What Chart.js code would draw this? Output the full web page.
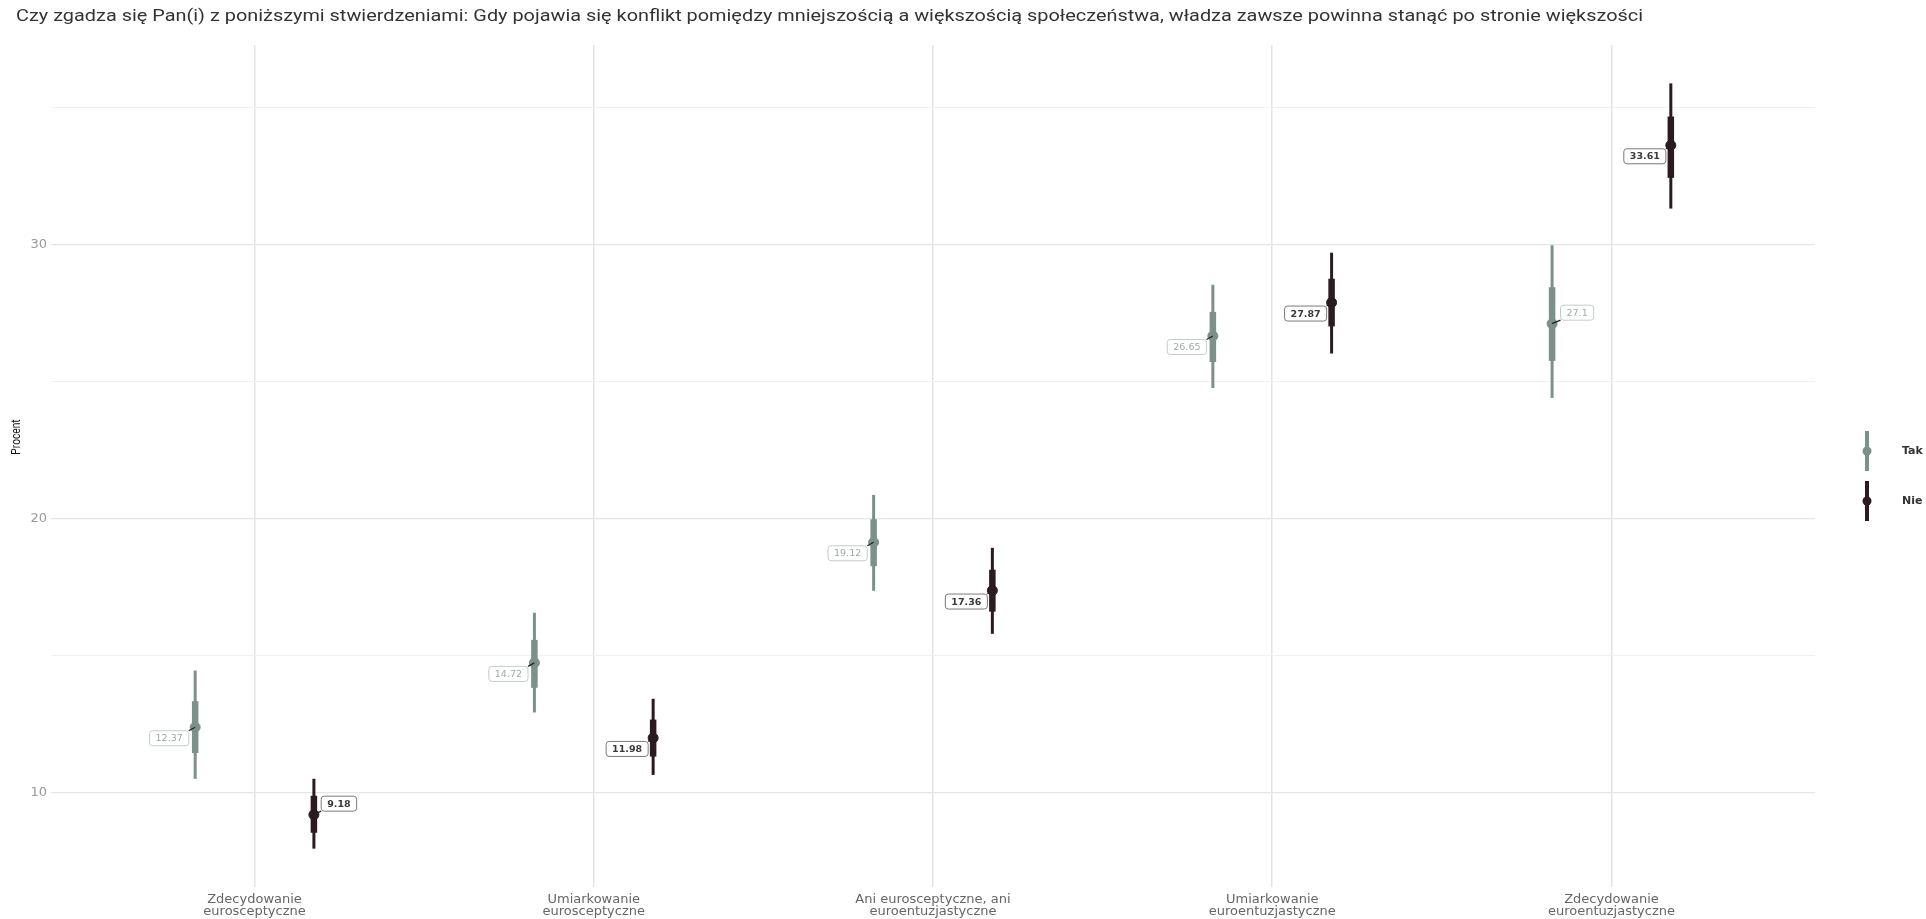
<!DOCTYPE html>
<html>
<head>
<meta charset="utf-8">
<script src="https://cdn.jsdelivr.net/npm/chart.js@4/dist/chart.umd.min.js"></script>
<style>
  html, body { margin: 0; padding: 0; background: #fff; }
  #wrap { width: 1926px; height: 919px; }
</style>
</head>
<body>
<div id="wrap"><canvas id="chart" width="1926" height="919"></canvas></div>
<script>
/* ---- Data ---- */
const chartTitle = 'Czy zgadza się Pan(i) z poniższymi stwierdzeniami: Gdy pojawia się konflikt pomiędzy mniejszością a większością społeczeństwa, władza zawsze powinna stanąć po stronie większości';
const yTitle = 'Procent';
const categories = [
  ['Zdecydowanie', 'eurosceptyczne'],
  ['Umiarkowanie', 'eurosceptyczne'],
  ['Ani eurosceptyczne, ani', 'euroentuzjastyczne'],
  ['Umiarkowanie', 'euroentuzjastyczne'],
  ['Zdecydowanie', 'euroentuzjastyczne'],
];
const yTicks = [10, 15, 20, 25, 30, 35];

const takValues    = [12.37, 14.72, 19.12, 26.65, 27.1];
const takOuterLow  = [10.49, 12.91, 17.35, 24.75, 24.39];
const takOuterHigh = [14.44, 16.55, 20.85, 28.52, 29.96];
const takInnerLow  = [11.43, 13.81, 18.25, 25.70, 25.74];
const takInnerHigh = [13.32, 15.56, 19.96, 27.53, 28.43];

const nieValues    = [9.18, 11.98, 17.36, 27.87, 33.61];
const nieOuterLow  = [7.94, 10.63, 15.78, 26.01, 31.30];
const nieOuterHigh = [10.49, 13.41, 18.92, 29.69, 35.87];
const nieInnerLow  = [8.52, 11.30, 16.59, 27.00, 32.42];
const nieInnerHigh = [9.87, 12.65, 18.12, 28.74, 34.66];

/* ---- Style ---- */
const DODGE = 0.175;
const takLabelSide = ['left', 'left', 'left', 'left', 'right'];
const nieLabelSide = ['right', 'left', 'left', 'left', 'left'];

const series = [
  { name: 'Tak', values: takValues, lo: takOuterLow, hi: takOuterHigh, ilo: takInnerLow, ihi: takInnerHigh,
    dodge: -DODGE, color: '#7b9189', text: '#9eaca6', border: '#c3ccc8', weight: 'normal', side: takLabelSide },
  { name: 'Nie', values: nieValues, lo: nieOuterLow, hi: nieOuterHigh, ilo: nieInnerLow, ihi: nieInnerHigh,
    dodge: DODGE, color: '#2b1b1f', text: '#3a3a3a', border: '#7a7a7a', weight: 'bold', side: nieLabelSide },
];

function roundRect(ctx, x, y, w, h, r) {
  ctx.beginPath();
  ctx.moveTo(x + r, y);
  ctx.arcTo(x + w, y, x + w, y + h, r);
  ctx.arcTo(x + w, y + h, x, y + h, r);
  ctx.arcTo(x, y + h, x, y, r);
  ctx.arcTo(x, y, x + w, y, r);
  ctx.closePath();
}

const intervalPlugin = {
  id: 'intervals',
  beforeDatasetsDraw(chart) {
    const { ctx, scales: { x, y } } = chart;
    ctx.save();
    ctx.lineCap = 'butt';
    series.forEach(s => {
      s.values.forEach((v, i) => {
        const px = x.getPixelForValue(i + s.dodge);
        ctx.strokeStyle = s.color;
        ctx.lineWidth = 3;
        ctx.beginPath();
        ctx.moveTo(px, y.getPixelForValue(s.lo[i]));
        ctx.lineTo(px, y.getPixelForValue(s.hi[i]));
        ctx.stroke();
        ctx.lineWidth = 6.5;
        ctx.beginPath();
        ctx.moveTo(px, y.getPixelForValue(s.ilo[i]));
        ctx.lineTo(px, y.getPixelForValue(s.ihi[i]));
        ctx.stroke();
      });
    });
    ctx.restore();
  },
  afterDatasetsDraw(chart) {
    const { ctx, scales: { x, y } } = chart;
    ctx.save();
    series.forEach(s => {
      ctx.font = `${s.weight} 9.5px "DejaVu Sans"`;
      s.values.forEach((v, i) => {
        const px = x.getPixelForValue(i + s.dodge);
        const py = y.getPixelForValue(v);
        const txt = String(v);
        const w = ctx.measureText(txt).width + 12;
        const h = 15;
        const left = s.side[i] === 'left';
        const cx = px + (left ? -26 : 25);
        const cy = py + (left ? 11 : -11);
        const bx = cx - w / 2, by = cy - h / 2;
        // leader
        ctx.strokeStyle = '#222';
        ctx.lineWidth = 1.2;
        ctx.beginPath();
        ctx.moveTo(px, py);
        ctx.lineTo(left ? bx + w : bx, left ? by : by + h);
        ctx.stroke();
        // box
        roundRect(ctx, bx, by, w, h, 3);
        ctx.fillStyle = '#fff';
        ctx.fill();
        ctx.strokeStyle = s.border;
        ctx.lineWidth = 1;
        ctx.stroke();
        ctx.fillStyle = s.text;
        ctx.textAlign = 'center';
        ctx.textBaseline = 'middle';
        ctx.fillText(txt, cx, cy + 0.5);
      });
    });
    ctx.restore();
  },
  afterDraw(chart) {
    const { ctx } = chart;
    ctx.save();
    // title, stretched to the reference width
    ctx.font = '17px Roboto';
    ctx.fillStyle = '#333';
    ctx.textAlign = 'left';
    ctx.textBaseline = 'middle';
    const tw = ctx.measureText(chartTitle).width;
    ctx.save();
    ctx.translate(16, 17);
    ctx.scale(1627 / tw, 1);
    ctx.fillText(chartTitle, 0, 0);
    ctx.restore();
    // y axis title
    ctx.save();
    ctx.translate(17, 437);
    ctx.rotate(-Math.PI / 2);
    ctx.textAlign = 'center';
    ctx.fillStyle = '#111';
    ctx.font = '12px "Liberation Sans Narrow", Roboto';
    ctx.scale(0.85, 1);
    ctx.fillText(yTitle, 0, 0);
    ctx.restore();
    // legend
    const lx = 1867;
    [451, 501].forEach((cy, k) => {
      const s = series[k];
      ctx.strokeStyle = s.color;
      ctx.lineWidth = 4;
      ctx.beginPath();
      ctx.moveTo(lx, cy - 20);
      ctx.lineTo(lx, cy + 20);
      ctx.stroke();
      ctx.fillStyle = s.color;
      ctx.beginPath();
      ctx.arc(lx, cy, 4.5, 0, Math.PI * 2);
      ctx.fill();
      ctx.fillStyle = '#333';
      ctx.font = 'bold 11px "DejaVu Sans"';
      ctx.fillText(s.name, 1902, cy);
    });
    ctx.restore();
  },
};

const datasets = series.map(s => ({
  label: s.name,
  data: s.values.map((v, i) => ({ x: i + s.dodge, y: v })),
  backgroundColor: s.color,
  borderColor: s.color,
  pointRadius: 5,
  pointHoverRadius: 5,
  showLine: false,
}));

new Chart(document.getElementById('chart').getContext('2d'), {
  type: 'scatter',
  data: { datasets },
  plugins: [intervalPlugin],
  options: {
    responsive: false,
    animation: false,
    layout: { padding: { top: 45, right: 111, bottom: 0, left: 2 } },
    plugins: { legend: { display: false }, tooltip: { enabled: false } },
    scales: {
      x: {
        type: 'linear',
        min: -0.6,
        max: 4.6,
        afterBuildTicks: scale => { scale.ticks = categories.map((_, i) => ({ value: i })); },
        afterFit: scale => { scale.height = 32; },
        ticks: {
          autoSkip: false,
          maxRotation: 0,
          padding: 6,
          color: '#666',
          font: { family: 'DejaVu Sans', size: 13, lineHeight: 0.95 },
          callback: v => categories[v] || '',
        },
        grid: { color: '#e4e4e4', lineWidth: 1.5, drawTicks: false },
        border: { display: false },
      },
      y: {
        min: 6.54,
        max: 37.27,
        afterBuildTicks: scale => { scale.ticks = yTicks.map(v => ({ value: v })); },
        afterFit: scale => { scale.width = 49; },
        ticks: {
          padding: 4,
          color: '#9a9a9a',
          font: { family: 'DejaVu Sans', size: 13 },
          callback: v => (v % 10 === 0 ? v : ''),
        },
        grid: {
          color: ctx => (ctx.tick && ctx.tick.value % 10 === 0 ? '#e6e6e6' : '#efefef'),
          lineWidth: ctx => (ctx.tick && ctx.tick.value % 10 === 0 ? 1.2 : 0.9),
          drawTicks: false,
        },
        border: { display: false },
      },
    },
  },
});
</script>
</body>
</html>
